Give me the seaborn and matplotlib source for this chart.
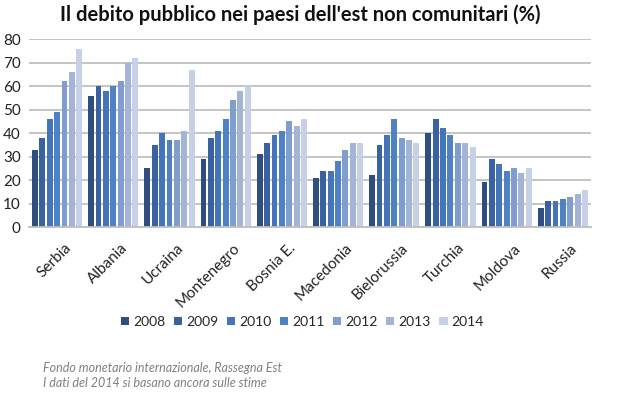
import pandas as pd
import matplotlib.pyplot as plt
import matplotlib.transforms as mtransforms
import seaborn as sns

# --- Data ---
countries = ["Serbia", "Albania", "Ucraina", "Montenegro", "Bosnia E.",
             "Macedonia", "Bielorussia", "Turchia", "Moldova", "Russia"]
years = ["2008", "2009", "2010", "2011", "2012", "2013", "2014"]
debt_2008 = [33, 56, 25, 29, 31, 21, 22, 40, 19, 8]
debt_2009 = [38, 60, 35, 38, 36, 24, 35, 46, 29, 11]
debt_2010 = [46, 58, 40, 41, 39, 24, 39, 42, 27, 11]
debt_2011 = [49, 60, 37, 46, 41, 28, 46, 39, 24, 12]
debt_2012 = [62, 62, 37, 54, 45, 33, 38, 36, 25, 13]
debt_2013 = [66, 70, 41, 58, 43, 36, 37, 36, 23, 14]
debt_2014 = [76, 72, 67, 60, 46, 36, 36, 34, 25, 16]
series = [debt_2008, debt_2009, debt_2010, debt_2011, debt_2012, debt_2013, debt_2014]

rows = []
for year, vals in zip(years, series):
    for c, v in zip(countries, vals):
        rows.append({"Paese": c, "Anno": year, "Debito": v})
df = pd.DataFrame(rows)

colors = ["#2D4E7E", "#3A62A0", "#4575B9", "#4F82C4", "#7F9DCF", "#A4B4D6", "#C6D0E6"]

sns.set_theme(style="white")
plt.rcParams["font.family"] = ["Lato", "DejaVu Sans"]

fig = plt.figure(figsize=(6.3, 3.95), dpi=100)
ax = fig.add_axes([0.046, 0.425, 0.892, 0.476])

sns.barplot(data=df, x="Paese", y="Debito", hue="Anno", palette=colors,
            width=0.92, gap=0.2, ax=ax, legend=True, edgecolor="none",
            linewidth=0, saturation=1)

ax.set_ylim(0, 80)
ax.set_yticks(range(0, 81, 10))
ax.set_xlim(-0.5, len(countries) - 0.5)
ax.yaxis.grid(True, color="#BFBFBF", linewidth=1.3)
ax.set_axisbelow(True)
for s in ["top", "right", "left"]:
    ax.spines[s].set_visible(False)
ax.spines["bottom"].set_color("#BFBFBF")
ax.spines["bottom"].set_linewidth(1.3)
ax.tick_params(axis="both", length=0, labelsize=11, colors="#222222")
ax.tick_params(axis="y", pad=6)
ax.tick_params(axis="x", pad=10)
# nudge rotated labels a little to the right
offset = mtransforms.ScaledTranslation(5 / 72, 0, fig.dpi_scale_trans)
for lbl in ax.get_xticklabels():
    lbl.set_rotation(45)
    lbl.set_ha("right")
    lbl.set_rotation_mode("anchor")
    lbl.set_transform(lbl.get_transform() + offset)
ax.set_xlabel("")
ax.set_ylabel("")

# legend below the plot
handles, labels = ax.get_legend_handles_labels()
ax.get_legend().remove()
fig.legend(handles, labels, loc="center", bbox_to_anchor=(0.48, 0.185), ncol=7,
           frameon=False, fontsize=10, handlelength=0.6, handleheight=0.6,
           handletextpad=0.3, columnspacing=0.6)

fig.text(0.476, 0.962, "Il debito pubblico nei paesi dell'est non comunitari (%)",
         ha="center", va="center", fontsize=14.5, fontweight="bold", color="#111111")

fig.text(0.068, 0.068, "Fondo monetario internazionale, Rassegna Est",
         fontsize=9, style="italic", color="#808080", va="center")
fig.text(0.068, 0.03, "I dati del 2014 si basano ancora sulle stime",
         fontsize=9, style="italic", color="#808080", va="center")

fig.savefig("out.png", dpi=100)
